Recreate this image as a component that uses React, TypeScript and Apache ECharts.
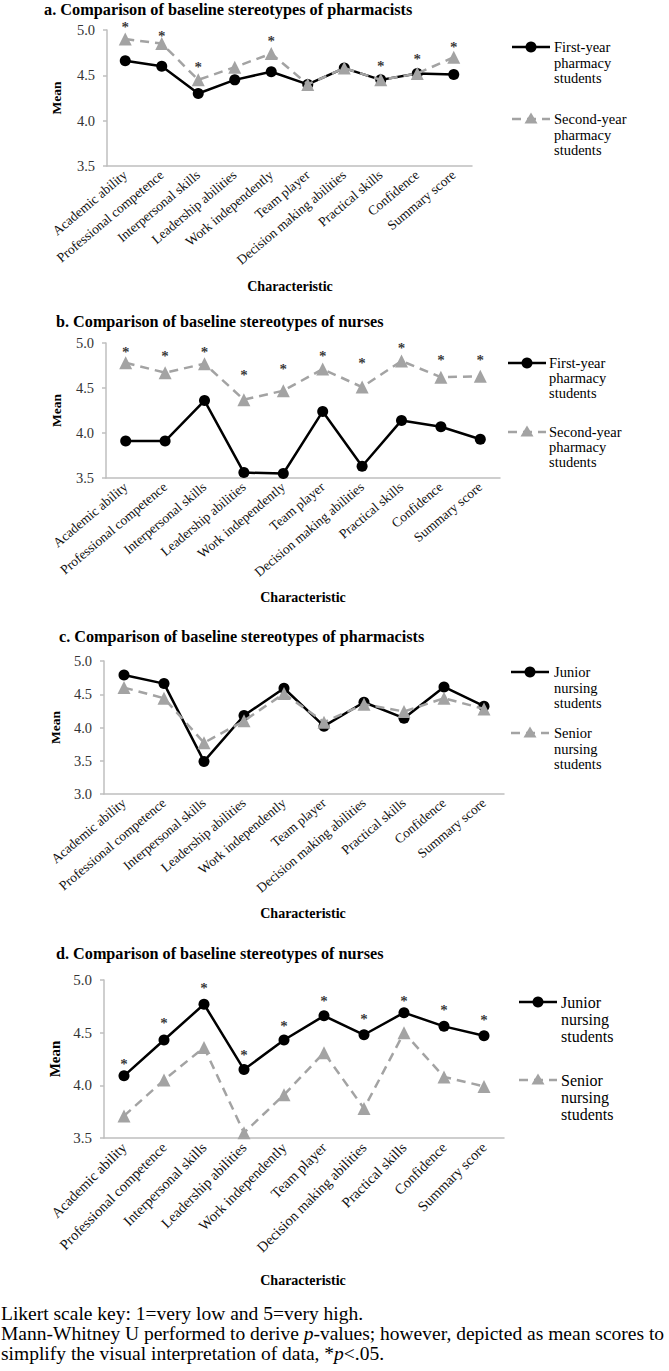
import React, { useEffect, useRef } from "react";
import * as echarts from "echarts";

const categories = [
  "Academic ability",
  "Professional competence",
  "Interpersonal skills",
  "Leadership abilities",
  "Work independently",
  "Team player",
  "Decision making abilities",
  "Practical skills",
  "Confidence",
  "Summary score",
];

// Panel a
const aFirst = [4.66, 4.6, 4.3, 4.45, 4.54, 4.4, 4.58, 4.45, 4.52, 4.51];
const aSecond = [4.9, 4.85, 4.45, 4.59, 4.74, 4.4, 4.58, 4.45, 4.52, 4.7];
const aStars = [5.07, 4.97, 4.63, null, 4.91, null, null, 4.64, 4.71, 4.85];
// Panel b
const bFirst = [3.91, 3.91, 4.36, 3.56, 3.55, 4.24, 3.63, 4.14, 4.07, 3.93];
const bSecond = [4.78, 4.67, 4.77, 4.37, 4.47, 4.71, 4.51, 4.8, 4.62, 4.63];
const bStars = [4.93, 4.89, 4.93, 4.68, 4.75, 4.89, 4.81, 4.98, 4.84, 4.85];
// Panel c
const cJunior = [4.79, 4.66, 3.49, 4.18, 4.59, 4.02, 4.38, 4.14, 4.61, 4.32];
const cSenior = [4.6, 4.44, 3.77, 4.1, 4.51, 4.08, 4.35, 4.24, 4.44, 4.28];
// Panel d
const dJunior = [4.09, 4.43, 4.77, 4.15, 4.43, 4.66, 4.48, 4.69, 4.56, 4.47];
const dSenior = [3.71, 4.05, 4.36, 3.55, 3.91, 4.31, 3.78, 4.5, 4.08, 3.99];
const dStars = [4.23, 4.62, 4.95, 4.32, 4.59, 4.83, 4.66, 4.83, 4.74, 4.65];

const titles = [
  "a. Comparison of baseline stereotypes of pharmacists",
  "b. Comparison of baseline stereotypes of nurses",
  "c. Comparison of baseline stereotypes of pharmacists",
  "d. Comparison of baseline stereotypes of nurses",
];
const pharmLegend = ["First-year\npharmacy\nstudents", "Second-year\npharmacy\nstudents"];
const nursLegend = ["Junior\nnursing\nstudents", "Senior\nnursing\nstudents"];

const SERIF = '"Liberation Serif", "Times New Roman", serif';
const BLACK = "#000000";
const GRAY = "#a3a3a3";
const AXIS = "#bfbfbf";

type Panel = {
  left: number; top: number; width: number; height: number;
  min: number; max: number;
  first: number[]; second: number[]; stars: (number | null)[] | null;
  legend: string[];
  titleX: number; titleY: number;
  meanX: number; charX: number; charY: number;
  legLineX: number; legTextX: number; legY1: number; legY2: number; legLH: number;
  xFont: number; yFont: number; rotate: number; legFont: number; titleFont: number; meanFont: number;
};

const panels: Panel[] = [
  {
    left: 107, top: 30, width: 365, height: 136, min: 3.5, max: 5,
    first: aFirst, second: aSecond, stars: aStars, legend: pharmLegend,
    titleX: 44, titleY: 9, meanX: 56, charX: 290, charY: 286,
    legLineX: 512, legTextX: 554, legY1: 47, legY2: 119, legLH: 15.5,
    xFont: 13.5, yFont: 14.5, rotate: 40, legFont: 14.5, titleFont: 16.3, meanFont: 13.5,
  },
  {
    left: 106, top: 343, width: 394, height: 135, min: 3.5, max: 5,
    first: bFirst, second: bSecond, stars: bStars, legend: pharmLegend,
    titleX: 56, titleY: 322, meanX: 56, charX: 303, charY: 597,
    legLineX: 508, legTextX: 549, legY1: 363, legY2: 432, legLH: 15,
    xFont: 13.5, yFont: 14.5, rotate: 40, legFont: 14.5, titleFont: 16.2, meanFont: 13.5,
  },
  {
    left: 104, top: 661, width: 400, height: 133, min: 3, max: 5,
    first: cJunior, second: cSenior, stars: null, legend: nursLegend,
    titleX: 59, titleY: 637, meanX: 55, charX: 303, charY: 913,
    legLineX: 511, legTextX: 554, legY1: 672, legY2: 733, legLH: 15.5,
    xFont: 13.5, yFont: 14.5, rotate: 40, legFont: 14.5, titleFont: 16.2, meanFont: 13.5,
  },
  {
    left: 104, top: 980, width: 400, height: 158, min: 3.5, max: 5,
    first: dJunior, second: dSenior, stars: dStars, legend: nursLegend,
    titleX: 56, titleY: 954, meanX: 55, charX: 303, charY: 1280,
    legLineX: 519, legTextX: 561, legY1: 1002, legY2: 1080, legLH: 17,
    xFont: 14.5, yFont: 15, rotate: 45, legFont: 16, titleFont: 16.2, meanFont: 15,
  },
];

function legendGraphics(p: Panel): any[] {
  const out: any[] = [];
  const x1 = p.legLineX;
  const x2 = p.legLineX + 38;
  const mid = (x1 + x2) / 2;
  out.push({
    type: "line",
    shape: { x1, y1: p.legY1, x2, y2: p.legY1 },
    style: { stroke: BLACK, lineWidth: 2.5 },
  });
  out.push({ type: "circle", shape: { cx: mid, cy: p.legY1, r: 5.5 }, style: { fill: BLACK } });
  out.push({
    type: "text",
    x: p.legTextX,
    y: p.legY1 - p.legLH / 2,
    style: {
      text: p.legend[0], fill: "#000", fontFamily: SERIF, fontSize: p.legFont,
      lineHeight: p.legLH, verticalAlign: "top", align: "left",
    },
  });
  out.push({
    type: "line",
    shape: { x1, y1: p.legY2, x2, y2: p.legY2 },
    style: { stroke: GRAY, lineWidth: 2.5, lineDash: [9, 6] },
  });
  out.push({
    type: "polygon",
    shape: { points: [[mid, p.legY2 - 6.5], [mid - 6.5, p.legY2 + 4.5], [mid + 6.5, p.legY2 + 4.5]] },
    style: { fill: GRAY },
  });
  out.push({
    type: "text",
    x: p.legTextX,
    y: p.legY2 - p.legLH / 2,
    style: {
      text: p.legend[1], fill: "#000", fontFamily: SERIF, fontSize: p.legFont,
      lineHeight: p.legLH, verticalAlign: "top", align: "left",
    },
  });
  return out;
}

export default function App() {
  const ref = useRef<HTMLDivElement>(null);
  useEffect(() => {
    if (!ref.current) return;
    const chart = echarts.init(ref.current, undefined, { renderer: "svg" });

    const grid: any[] = [];
    const xAxis: any[] = [];
    const yAxis: any[] = [];
    const series: any[] = [];
    const graphic: any[] = [];

    panels.forEach((p, i) => {
      grid.push({ left: p.left, top: p.top, width: p.width, height: p.height, containLabel: false });
      xAxis.push({
        type: "category",
        gridIndex: i,
        data: categories,
        boundaryGap: true,
        axisLine: { show: true, lineStyle: { color: AXIS, width: 1.5 } },
        axisTick: { show: false },
        axisLabel: {
          rotate: p.rotate, interval: 0, fontFamily: SERIF, fontSize: p.xFont,
          color: "#111", margin: 7,
        },
      });
      yAxis.push({
        type: "value",
        gridIndex: i,
        min: p.min,
        max: p.max,
        interval: 0.5,
        axisLine: { show: true, lineStyle: { color: AXIS, width: 1.5 } },
        axisTick: { show: true, length: 4, lineStyle: { color: AXIS, width: 1.5 } },
        splitLine: { show: false },
        axisLabel: {
          formatter: (v: number) => v.toFixed(1),
          fontFamily: SERIF, fontSize: p.yFont, color: "#333", margin: 12,
        },
      });
      series.push({
        type: "line",
        xAxisIndex: i,
        yAxisIndex: i,
        data: p.first,
        symbol: "circle",
        symbolSize: 11,
        color: BLACK,
        lineStyle: { color: BLACK, width: 2.5 },
        itemStyle: { color: BLACK },
        z: 2,
      });
      series.push({
        type: "line",
        xAxisIndex: i,
        yAxisIndex: i,
        data: p.second,
        symbol: "triangle",
        symbolSize: 13,
        color: GRAY,
        lineStyle: { color: GRAY, width: 2.5, type: [9, 6] },
        itemStyle: { color: GRAY },
        z: 3,
      });
      if (p.stars) {
        series.push({
          type: "scatter",
          xAxisIndex: i,
          yAxisIndex: i,
          data: p.stars.map((v) => (v === null ? "-" : v)),
          symbolSize: 0,
          color: BLACK,
          itemStyle: { color: BLACK },
          clip: false,
          silent: true,
          label: {
            show: true, formatter: "*", position: "inside", fontFamily: SERIF,
            fontSize: 15, fontWeight: "bold", color: "#000000", textBorderWidth: 0, offset: [0, 3],
          },
          z: 4,
        });
      }
      graphic.push({
        type: "text",
        x: p.titleX,
        y: p.titleY,
        style: {
          text: titles[i], fill: "#000", fontFamily: SERIF, fontWeight: "bold",
          fontSize: p.titleFont, verticalAlign: "middle", align: "left",
        },
      });
      graphic.push({
        type: "text",
        x: p.meanX,
        y: p.top + p.height / 2,
        rotation: Math.PI / 2,
        style: {
          text: "Mean", fill: "#000", fontFamily: SERIF, fontWeight: "bold",
          fontSize: p.meanFont, verticalAlign: "middle", align: "center",
        },
      });
      graphic.push({
        type: "text",
        x: p.charX,
        y: p.charY,
        style: {
          text: "Characteristic", fill: "#000", fontFamily: SERIF, fontWeight: "bold",
          fontSize: 14, verticalAlign: "middle", align: "center",
        },
      });
      graphic.push(...legendGraphics(p));
    });

    const noteStyle = { fill: "#000", fontFamily: SERIF, fontSize: 19.5, verticalAlign: "middle", align: "left" };
    const italic = { i: { fontStyle: "italic", fontFamily: SERIF, fontSize: 19.5 } };
    graphic.push({
      type: "text", x: 1, y: 1313,
      style: { ...noteStyle, text: "Likert scale key: 1=very low and 5=very high." },
    });
    graphic.push({
      type: "text", x: 1, y: 1333,
      style: {
        ...noteStyle,
        text: "Mann-Whitney U performed to derive {i|p}-values; however, depicted as mean scores to",
        rich: italic,
      },
    });
    graphic.push({
      type: "text", x: 1, y: 1353,
      style: {
        ...noteStyle,
        text: "simplify the visual interpretation of data, *{i|p}<.05.",
        rich: italic,
      },
    });

    chart.setOption({
      animation: false,
      backgroundColor: "#ffffff",
      grid,
      xAxis,
      yAxis,
      series,
      graphic: { elements: graphic },
    });
    return () => chart.dispose();
  }, []);
  return (
    <div
      ref={ref}
      style={{ position: "absolute", left: 0, top: 0, width: 669, height: 1371 }}
    />
  );
}
